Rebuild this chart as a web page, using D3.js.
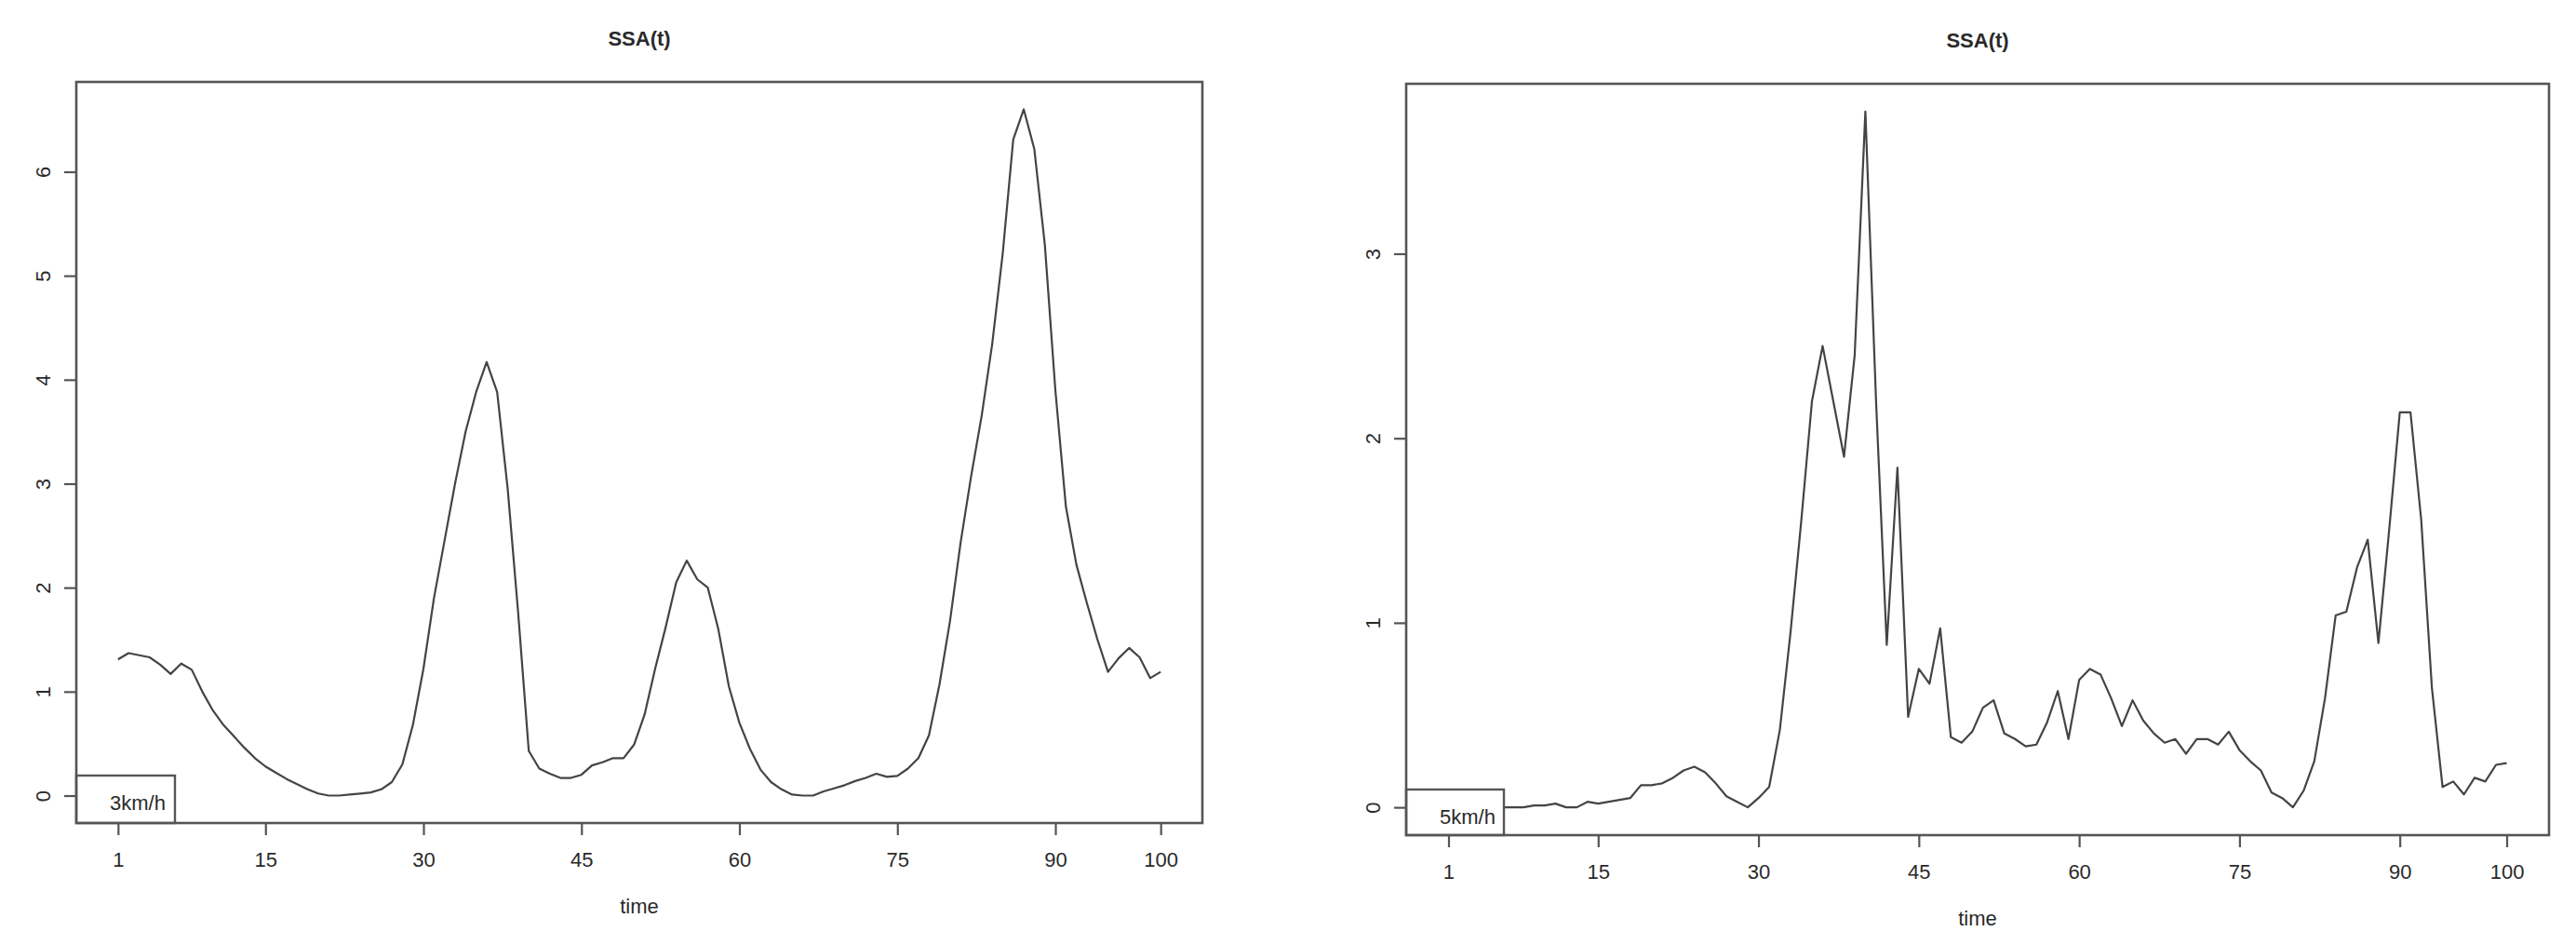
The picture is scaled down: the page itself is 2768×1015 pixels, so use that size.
<!DOCTYPE html>
<html>
<head>
<meta charset="utf-8">
<script src="https://cdn.jsdelivr.net/npm/d3@7"></script>
<style>
  body { margin: 0; background: #fff; }
  text { font-family: "Liberation Sans", Arial, sans-serif; fill: #2a2a2a; }
</style>
</head>
<body>
<div id="chart"></div>
<script>
const width = 2768;
const height = 1015;

// time index and tick labels
const timeSteps = d3.range(1, 101);
const xTicks = [1, 15, 30, 45, 60, 75, 90, 100];
const yTicks3 = [0, 1, 2, 3, 4, 5, 6];
const yTicks5 = [0, 1, 2, 3];

// SSA(t) at 3 km/h
const ssa3 = [
  1.31, 1.37, 1.35, 1.33, 1.26, 1.17, 1.27, 1.21, 1.00, 0.82,
  0.68, 0.57, 0.46, 0.36, 0.28, 0.22, 0.16, 0.11, 0.06, 0.02,
  0.00, 0.00, 0.01, 0.02, 0.03, 0.06, 0.13, 0.30, 0.68, 1.22,
  1.90, 2.45, 3.00, 3.50, 3.88, 4.17, 3.88, 2.95, 1.75, 0.43,
  0.26, 0.21, 0.17, 0.17, 0.20, 0.29, 0.32, 0.36, 0.36, 0.49,
  0.78, 1.22, 1.62, 2.05, 2.26, 2.08, 2.00, 1.60, 1.05, 0.70,
  0.45, 0.25, 0.13, 0.06, 0.01, 0.00, 0.00, 0.04, 0.07, 0.10,
  0.14, 0.17, 0.21, 0.18, 0.19, 0.26, 0.36, 0.58, 1.07, 1.68,
  2.43, 3.07, 3.65, 4.34, 5.21, 6.31, 6.60, 6.22, 5.30, 3.90,
  2.78, 2.22, 1.85, 1.50, 1.19, 1.32, 1.42, 1.33, 1.13, 1.19
];

// SSA(t) at 5 km/h
const ssa5 = [
  0.00, 0.00, 0.00, 0.00, 0.00, 0.00, 0.00, 0.00, 0.01, 0.01,
  0.02, 0.00, 0.00, 0.03, 0.02, 0.03, 0.04, 0.05, 0.12, 0.12,
  0.13, 0.16, 0.20, 0.22, 0.19, 0.13, 0.06, 0.03, 0.00, 0.05,
  0.11, 0.42, 0.95, 1.55, 2.20, 2.50, 2.20, 1.90, 2.45, 3.77,
  2.20, 0.88, 1.84, 0.49, 0.75, 0.67, 0.97, 0.38, 0.35, 0.41,
  0.54, 0.58, 0.40, 0.37, 0.33, 0.34, 0.46, 0.63, 0.37, 0.69,
  0.75, 0.72, 0.59, 0.44, 0.58, 0.47, 0.40, 0.35, 0.37, 0.29,
  0.37, 0.37, 0.34, 0.41, 0.31, 0.25, 0.20, 0.08, 0.05, 0.00,
  0.09, 0.25, 0.59, 1.04, 1.06, 1.30, 1.45, 0.89, 1.50, 2.14,
  2.14, 1.56, 0.65, 0.11, 0.14, 0.07, 0.16, 0.14, 0.23, 0.24
];

const svg = d3.select("#chart")
    .append("svg")
    .attr("width", width)
    .attr("height", height);

svg.append("rect").attr("width", width).attr("height", height).attr("fill", "#fff");

function drawPanel(values, yTicks, title, legendText, box) {
    const g = svg.append("g");

    // R style: 4% padding around data range
    const padX = 0.04 * (timeSteps[timeSteps.length - 1] - timeSteps[0]);
    const x = d3.scaleLinear()
        .domain([timeSteps[0] - padX, timeSteps[timeSteps.length - 1] + padX])
        .range([box.left, box.right]);

    const ext = d3.extent(values);
    const padY = 0.04 * (ext[1] - ext[0]);
    const y = d3.scaleLinear()
        .domain([ext[0] - padY, ext[1] + padY])
        .range([box.bottom, box.top]);

    // data line
    const line = d3.line()
        .x((d, i) => x(timeSteps[i]))
        .y(d => y(d));

    g.append("path")
        .datum(values)
        .attr("d", line)
        .attr("fill", "none")
        .attr("stroke", "#444")
        .attr("stroke-width", 2.2)
        .attr("stroke-linejoin", "round");

    // x axis
    g.append("g")
        .attr("transform", `translate(0,${box.bottom})`)
        .call(d3.axisBottom(x).tickValues(xTicks).tickSize(13).tickPadding(18))
        .call(a => a.select(".domain").remove())
        .call(a => a.selectAll("line").attr("stroke", "#555").attr("stroke-width", 2.2))
        .call(a => a.selectAll("text").attr("font-size", 22).attr("fill", "#2a2a2a")
            .attr("font-family", "Liberation Sans, Arial, sans-serif"));

    // y axis, labels parallel to the axis
    g.append("g")
        .attr("transform", `translate(${box.left},0)`)
        .call(d3.axisLeft(y).tickValues(yTicks).tickSize(13).tickFormat(d3.format("d")))
        .call(a => a.select(".domain").remove())
        .call(a => a.selectAll("line").attr("stroke", "#555").attr("stroke-width", 2.2))
        .call(a => a.selectAll("text")
            .attr("x", null).attr("dy", null)
            .attr("text-anchor", "middle")
            .attr("transform", "translate(-28,0) rotate(-90)")
            .attr("font-size", 22).attr("fill", "#3a3a3a")
            .attr("font-family", "Liberation Sans, Arial, sans-serif"));

    // legend box (opaque, bottom left)
    g.append("rect")
        .attr("x", box.left)
        .attr("y", box.bottom - box.legendH)
        .attr("width", box.legendW)
        .attr("height", box.legendH)
        .attr("fill", "#fff")
        .attr("stroke", "#555")
        .attr("stroke-width", 2.4);

    g.append("text")
        .attr("x", box.left + 36)
        .attr("y", box.bottom - box.legendH + 37)
        .attr("font-size", 22)
        .text(legendText);

    // plot frame
    g.append("rect")
        .attr("x", box.left)
        .attr("y", box.top)
        .attr("width", box.right - box.left)
        .attr("height", box.bottom - box.top)
        .attr("fill", "none")
        .attr("stroke", "#555")
        .attr("stroke-width", 2.6);

    // title and axis label
    g.append("text")
        .attr("x", (box.left + box.right) / 2)
        .attr("y", box.top - 39)
        .attr("text-anchor", "middle")
        .attr("font-size", 22)
        .attr("font-weight", "bold")
        .text(title);

    g.append("text")
        .attr("x", (box.left + box.right) / 2)
        .attr("y", box.bottom + 97)
        .attr("text-anchor", "middle")
        .attr("font-size", 22)
        .text("time");
}

drawPanel(ssa3, yTicks3, "SSA(t)", "3km/h",
    {left: 82, right: 1292, top: 88, bottom: 884, legendW: 106, legendH: 51});
drawPanel(ssa5, yTicks5, "SSA(t)", "5km/h",
    {left: 1511, right: 2739, top: 90, bottom: 897, legendW: 105, legendH: 49});
</script>
</body>
</html>
